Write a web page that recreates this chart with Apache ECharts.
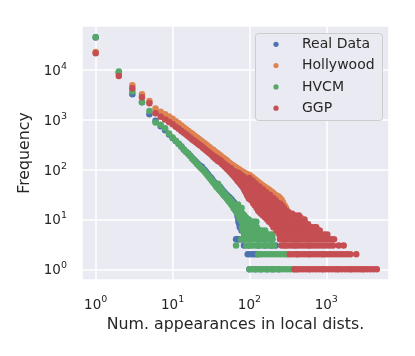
<!DOCTYPE html>
<html><head><meta charset="utf-8">
<script src="https://cdn.jsdelivr.net/npm/echarts/dist/echarts.min.js"></script>
<style>html,body{margin:0;padding:0;background:#fff}#c{width:415px;height:356px}</style>
</head><body><div id="c"></div>
<script>
const seriesNames = ['Real Data', 'Hollywood', 'HVCM', 'GGP'];
const xTickLabels = ['10^0', '10^1', '10^2', '10^3'];
const yTickLabels = ['10^0', '10^1', '10^2', '10^3', '10^4'];

// [appearances, frequency]
const realHead = [[1,45000],[2,8800],[3,3270],[4,2250],[5,1300],[6,960],[7,740],[8,620],[9,510],[10,430],[11,375],[12,330],[13,290],[14,255],[15,230],[16,210],[17,190],[18,172],[19,158],[20,146],[21,134],[22,126],[23,118],[24,114],[25,104],[26,98],[27,92],[28,85],[29,80],[30,74],[31,70],[32,67],[33,62],[34,58],[35,55],[36,53],[37,49],[38,47],[39,50],[40,43],[41,46],[42,40],[43,42],[44,37],[45,38],[46,34],[47,35],[48,32],[49,33],[50,30],[51,31],[52,28],[53,29],[54,26],[55,28],[56,25],[57,26],[58,23],[59,25],[60,22],[61,23],[62,20],[63,22],[64,19],[65,20],[66,18],[67,19],[68,16],[69,14],[70,12],[71,11],[72,9],[73,10],[74,8],[75,7],[77,8],[79,6],[81,7],[83,6],[86,5],[88,6],[91,5],[95,5]];
// [frequency, [appearances...]]
const realRows = [[4,[67,70,73,76,80]],[3,[85,100,130,160,190,220]],[2,[95,103,112,121,130]],[1,[100,120,140,170,200,240]]];

const hollywoodHead = [[1,23000],[2,8500],[3,4950],[4,3270],[5,2400],[6,1680],[7,1450],[8,1300],[9,1160],[10,1050],[11,940],[12,850],[13,770],[14,705],[15,650],[16,600],[17,560],[18,525],[19,490],[20,460],[21,435],[22,412],[23,390],[24,370],[25,352],[26,337],[27,322],[28,309],[29,296],[30,284],[32,263],[34,247],[36,230],[38,216],[40,203],[42,192],[44,180],[46,172],[48,162],[50,156],[52,148],[55,137],[58,128],[61,122],[64,116],[67,110],[70,106],[73,102],[76,97],[79,94],[82,90],[85,88],[88,85],[91,82],[94,80],[97,79],[100,78],[104,74],[108,71],[112,68],[117,64],[122,61],[127,58],[133,55],[139,52],[145,50],[152,47],[159,45],[166,43],[174,41],[182,39],[190,37],[199,35],[208,33],[218,31],[228,30],[239,29],[250,27],[262,25],[274,22],[287,19],[300,17],[310,15]];
const hollywoodRows = [[12,[200,280]],[8,[240,320]],[5,[270,400,600]],[4,[280,420]],[3,[290,400,600]],[2,[316,420,600,900]],[1,[420,600,900,1400,2100,3000]]];

const hvcmHead = [[1,46000],[2,9300],[3,3720],[4,2250],[5,1510],[6,880],[7,800],[8,680],[9,530],[10,440],[11,380],[12,330],[13,290],[14,250],[15,225],[16,205],[17,185],[18,165],[19,152],[20,140],[21,128],[22,120],[23,110],[24,104],[25,98],[26,92],[27,86],[28,80],[29,75],[30,70],[31,66],[32,63],[33,58],[34,55],[35,52],[36,50],[37,46],[38,44],[39,52],[40,40],[41,45],[42,37],[43,40],[44,34],[45,36],[46,31],[47,33],[48,29],[49,31],[50,27],[51,29],[52,25],[53,27],[54,23],[55,26],[56,22],[57,24],[58,20],[59,23],[60,19],[61,21],[62,17],[63,20],[64,16],[65,19],[66,15],[67,18],[68,14],[69,17],[70,13],[71,20],[72,12],[73,16],[74,11],[75,14],[76,10],[77,15],[78,12],[79,17],[80,9],[82,13],[84,10],[86,12],[88,8],[90,11],[93,9],[96,10],[100,7],[104,9],[108,8],[111,9],[117,9],[123,9],[115,7],[125,6],[135,6],[145,5]];
const hvcmRows = [[10,[82,90,98]],[8,[85,95,105,118]],[7,[80,90,100,112,125]],[6,[82,92,104,116,130,145,160]],[5,[88,98,110,122,136,152,170,185,200]],[4,[78,86,95,104,115,126,139,153,168,185,200]],[3,[67,91,100,110,121,133,146,160,176,193,208]],[2,[130,143,157,173,190,209,230,253,278,300]],[1,[100,110,121,133,146,161,177,195,214,236,259,285,313,345,380]]];

const ggpHead = [[1,21700],[2,7600],[3,4300],[4,2840],[5,2150],[6,1360],[7,1150],[8,1020],[9,900],[10,815],[11,730],[12,660],[13,600],[14,550],[15,505],[16,470],[17,435],[18,405],[19,380],[20,360],[21,340],[22,320],[23,305],[24,290],[25,272],[26,262],[27,248],[28,238],[29,226],[30,218],[31,212],[32,198],[33,194],[34,180],[35,184],[36,166],[37,174],[38,158],[39,150],[40,163],[41,144],[42,140],[43,150],[44,130],[45,138],[46,122],[47,130],[48,115],[49,124],[50,108],[51,118],[52,101],[53,112],[54,96],[55,106],[56,90],[57,108],[58,86],[59,98],[60,80],[61,95],[62,76],[63,88],[64,72],[65,92],[66,68],[67,84],[68,65],[69,80],[70,60],[71,87],[72,58],[73,76],[74,55],[75,82],[76,52],[77,71],[78,50],[79,76],[80,47],[81,68],[82,64],[83,44],[84,72],[85,41],[86,58],[87,38],[88,66],[89,36],[90,53],[91,34],[92,62],[93,31],[94,48],[95,30],[96,57],[97,28],[98,43],[99,26],[100,68]];
const ggpRows = [
[60,[76,86,97,110]],
[53,[80,90,102,115,120]],
[46,[84,95,107,121,135]],
[40,[88,99,112,126,142,150]],
[35,[92,104,117,132,149,165]],
[31,[96,108,122,138,156,176,185]],
[27,[101,114,129,146,165,186,205]],
[24,[106,120,135,153,173,195,220]],
[21,[112,126,143,161,182,206,232,250]],
[19,[118,133,150,170,192,217,245,265]],
[17,[124,140,158,179,202,228,258,280]],
[15,[130,147,166,188,212,240,271,300]],
[14,[136,154,174,197,223,252,285,322]],
[13,[142,161,182,206,233,263,297,336,360]],
[12,[150,170,192,217,245,277,313,353,399,440]],
[11,[160,181,205,232,262,296,334,377,425,460]],
[10,[170,192,217,245,277,313,353,399,450,520]],
[9,[180,203,229,258,291,328,370,418,472,520]],
[8,[195,220,248,280,316,357,403,455,513,580]],
[7,[205,226,249,274,301,331,364,400,440,484,532,585,644,700,740]],
[6,[225,248,273,300,330,363,400,440,484,532,585,644,708,780,820]],
[5,[245,270,297,327,360,396,436,480,528,581,640,704,775,853,940,1030]],
[4,[250,275,302,333,366,402,443,487,536,589,648,713,784,863,949,1044,1150,1260]],
[3,[262,288,317,349,384,422,464,511,562,618,680,748,823,905,996,1100,1220,1450,1680]],
[2,[335,368,405,445,490,539,593,652,717,789,868,955,1050,1155,1270,1397,1537,1690,1860,2050,2450]],
[1,[385,420,460,505,556,612,673,740,814,895,985,1083,1192,1311,1442,1586,1745,1919,2111,2323,2555,2810,3091,3400,3740,4115,4540]]
];

const colors = ['#4C72B0', '#DD8452', '#55A868', '#C44E52'];
const FONT = 'DejaVu Sans';
const TXT = '#262626';

function build(head, rows) {
  const pts = head.slice();
  rows.forEach(([f, xs]) => xs.forEach(x => pts.push([x, f])));
  return pts;
}
const allData = [build(realHead, realRows), build(hollywoodHead, hollywoodRows), build(hvcmHead, hvcmRows), build(ggpHead, ggpRows)];

function supLabel(v) {
  const l = Math.log10(v);
  const e = Math.round(l);
  if (Math.abs(l - e) > 1e-6) return '';
  return '{b|10}{s|' + e + '}';
}
const rich = {
  b: { fontSize: 13.5, fontFamily: FONT, color: TXT, lineHeight: 17, verticalAlign: 'bottom' },
  s: { fontSize: 9.5, fontFamily: FONT, color: TXT, lineHeight: 11, verticalAlign: 'top' }
};

// legend drawn as a framed box with markers and real text
const legendEls = [{
  type: 'rect', z: 100, silent: true,
  shape: { x: 255.5, y: 33.5, width: 127, height: 87, r: 3 },
  style: { fill: '#EAEAF2', stroke: '#CCCCCC', lineWidth: 1 }
}];
seriesNames.forEach((n, i) => {
  const cy = 44.3 + i * 21.3;
  legendEls.push({ type: 'circle', z: 101, silent: true, shape: { cx: 276, cy: cy, r: 2.6 }, style: { fill: colors[i] } });
  legendEls.push({ type: 'text', z: 101, silent: true, x: 302, y: cy,
    style: { text: n, fontSize: 14, fontFamily: FONT, fill: TXT, verticalAlign: 'middle', align: 'left' } });
});

const chart = echarts.init(document.getElementById('c'), null, { renderer: 'canvas' });
chart.setOption({
  animation: false,
  backgroundColor: '#ffffff',
  grid: { left: 82, right: 26, top: 26, bottom: 76, show: true, backgroundColor: '#EAEAF2', borderWidth: 0, containLabel: false },
  xAxis: {
    type: 'log', logBase: 10, min: 0.6636, max: 6540,
    axisLine: { show: false }, axisTick: { show: false },
    splitLine: { show: true, lineStyle: { color: '#ffffff', width: 1.5 } },
    axisLabel: { formatter: supLabel, rich: rich, margin: 15, showMinLabel: false, showMaxLabel: false },
    name: 'Num. appearances in local dists.', nameLocation: 'middle', nameGap: 35,
    nameTextStyle: { fontSize: 15.8, fontFamily: FONT, color: TXT }
  },
  yAxis: {
    type: 'log', logBase: 10, min: 0.6096, max: 76470,
    axisLine: { show: false }, axisTick: { show: false },
    splitLine: { show: true, lineStyle: { color: '#ffffff', width: 1.5 } },
    axisLabel: { formatter: supLabel, rich: rich, margin: 15, showMinLabel: false, showMaxLabel: false },
    name: 'Frequency', nameLocation: 'middle', nameGap: 46,
    nameTextStyle: { fontSize: 15.8, fontFamily: FONT, color: TXT }
  },
  graphic: legendEls,
  series: seriesNames.map((n, i) => ({
    name: n, type: 'scatter', data: allData[i], symbol: 'circle', symbolSize: 6.5,
    itemStyle: { color: colors[i], opacity: 1 }, emphasis: { disabled: true }
  }))
});
</script></body></html>
